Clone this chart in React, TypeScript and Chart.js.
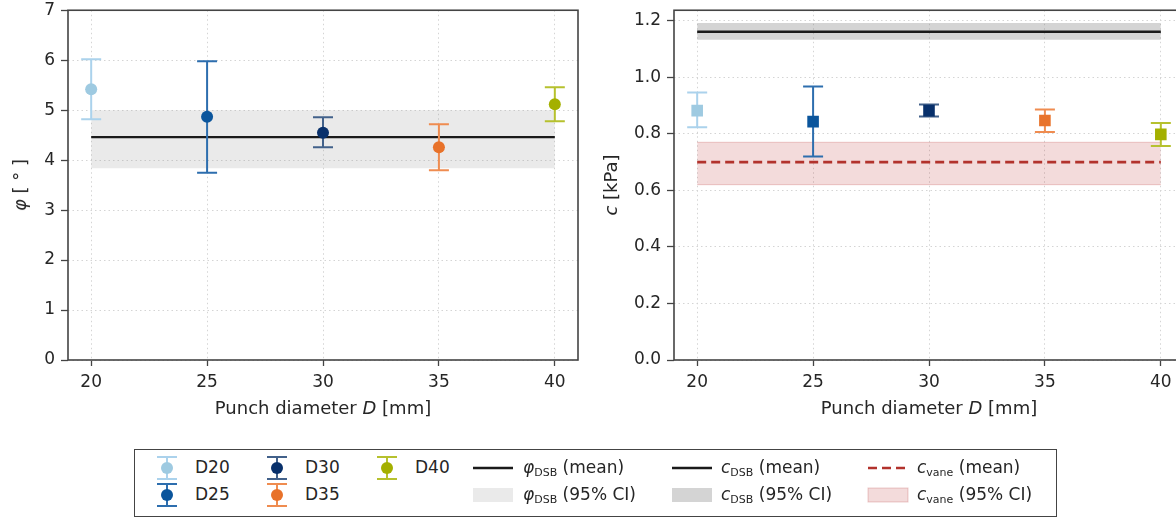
import React, { useEffect, useRef } from 'react';
import { Chart, registerables } from 'chart.js';
Chart.register(...registerables);

// ---- data ----
const diameters = [20, 25, 30, 35, 40];
const seriesNames = ['D20', 'D25', 'D30', 'D35', 'D40'];
const phiValues = [5.42, 4.87, 4.55, 4.26, 5.12];
const phiLow = [4.82, 3.75, 4.26, 3.80, 4.78];
const phiHigh = [6.02, 5.98, 4.86, 4.72, 5.46];
const cValues = [0.882, 0.843, 0.882, 0.847, 0.798];
const cLow = [0.823, 0.720, 0.861, 0.806, 0.757];
const cHigh = [0.946, 0.967, 0.904, 0.886, 0.838];
const phiDsb = [3.84, 4.46, 5.0]; // low, mean, high
const cDsb = [1.133, 1.161, 1.192];
const cVane = [0.62, 0.70, 0.77];
const bandX = [20, 40];
const xTicks = [20, 25, 30, 35, 40];
const phiTicks = [0, 1, 2, 3, 4, 5, 6, 7];
const cTicks = [0, 0.2, 0.4, 0.6, 0.8, 1.0, 1.2];

const pointColors = ['#9ecae1', '#0b559c', '#08306b', '#e8722a', '#a4b000'];
const barColors = ['#abd2ec', '#2d6eae', '#42618a', '#ef8c50', '#b6c12e'];

const FONT = "'DejaVu Sans', sans-serif";
const TXT = '#262626';

const errorBarPlugin = {
  id: 'errorBars',
  beforeDatasetDraw(chart: any, args: any) {
    const ds = chart.data.datasets[args.index];
    if (!ds.errLow) return;
    const { ctx, scales } = chart;
    const xs = scales.x, ys = scales.y;
    ctx.save();
    ctx.strokeStyle = ds.errColor;
    ctx.lineWidth = 2;
    ds.data.forEach((p: any, i: number) => {
      const px = xs.getPixelForValue(p.x);
      const yl = ys.getPixelForValue(ds.errLow[i]);
      const yh = ys.getPixelForValue(ds.errHigh[i]);
      ctx.beginPath();
      ctx.moveTo(px, yl); ctx.lineTo(px, yh);
      ctx.moveTo(px - 10, yl); ctx.lineTo(px + 10, yl);
      ctx.moveTo(px - 10, yh); ctx.lineTo(px + 10, yh);
      ctx.stroke();
    });
    ctx.restore();
  },
};

const framePlugin = {
  id: 'frame',
  afterDraw(chart: any) {
    const { ctx, chartArea: a } = chart;
    ctx.save();
    ctx.strokeStyle = '#444';
    ctx.lineWidth = 1.6;
    ctx.strokeRect(a.left, a.top, a.right - a.left, a.bottom - a.top);
    ctx.restore();
  },
};

function band(lo: number, hi: number, color: string, edge: string, baseIndex: number, order: number) {
  return [
    {
      type: 'line', data: bandX.map((x) => ({ x, y: lo })), borderWidth: edge ? 1 : 0,
      borderColor: edge || 'transparent', pointRadius: 0, fill: false, order,
    },
    {
      type: 'line', data: bandX.map((x) => ({ x, y: hi })), borderWidth: edge ? 1 : 0,
      borderColor: edge || 'transparent', pointRadius: 0, fill: baseIndex, backgroundColor: color, order,
    },
  ];
}

function meanLine(v: number, color: string, dash: number[], width: number, order: number) {
  return {
    type: 'line', data: bandX.map((x) => ({ x, y: v })), borderColor: color, borderWidth: width,
    borderDash: dash, pointRadius: 0, fill: false, order,
  };
}

function pointSets(vals: number[], lo: number[], hi: number[], style: string, radius: number) {
  return diameters.map((d, i) => ({
    type: 'scatter', label: seriesNames[i], data: [{ x: d, y: vals[i] }],
    errLow: [lo[i]], errHigh: [hi[i]], errColor: barColors[i],
    backgroundColor: pointColors[i], borderColor: pointColors[i], borderWidth: 0,
    pointStyle: style, pointRadius: radius, order: 0,
  }));
}

function makeOptions(yMin: number, yMax: number, yTicks: number[], yWidth: number, fmt: (v: number) => string, padRight: number) {
  const tickFont = { family: FONT, size: 17 };
  return {
    animation: false, responsive: false, devicePixelRatio: 1,
    layout: { padding: { top: 4, right: padRight, left: 0, bottom: 0 } },
    plugins: { legend: { display: false }, tooltip: { enabled: false } },
    scales: {
      x: {
        type: 'linear', min: 19, max: 41,
        afterBuildTicks: (s: any) => { s.ticks = xTicks.map((v) => ({ value: v })); },
        afterFit: (s: any) => { s.height = 70; },
        ticks: { font: tickFont, color: TXT, padding: 6, callback: (v: any) => String(v), maxRotation: 0 },
        grid: { color: '#d4d4d4', lineWidth: 1, tickColor: '#444', tickLength: 6, tickWidth: 1.3, tickBorderDash: [] },
        border: { display: false, dash: [1.5, 3] },
      },
      y: {
        type: 'linear', min: yMin, max: yMax,
        afterBuildTicks: (s: any) => { s.ticks = yTicks.map((v) => ({ value: v })); },
        afterFit: (s: any) => { s.width = yWidth; },
        ticks: { font: { ...tickFont, lineHeight: 0.5 }, color: TXT, padding: 6, callback: (v: any) => fmt(Number(v)) },
        grid: { color: '#d4d4d4', lineWidth: 1, tickColor: '#444', tickLength: 7, tickWidth: 1.3, tickBorderDash: [] },
        border: { display: false, dash: [1.5, 3] },
      },
    },
  };
}

function PlotCanvas({ config, width, height, left }: any) {
  const ref = useRef<HTMLCanvasElement>(null);
  useEffect(() => {
    const chart = new Chart(ref.current as HTMLCanvasElement, config);
    return () => chart.destroy();
  }, []);
  return (
    <canvas ref={ref} width={width} height={height}
      style={{ position: 'absolute', left, top: 0, width, height }} />
  );
}

function ErrIcon({ cx, cy, i }: { cx: number; cy: number; i: number }) {
  return (
    <svg width={24} height={28} style={{ position: 'absolute', left: cx - 12, top: cy - 14 }}>
      <line x1={12} y1={3} x2={12} y2={25} stroke={barColors[i]} strokeWidth={2} />
      <line x1={2} y1={3} x2={22} y2={3} stroke={barColors[i]} strokeWidth={2} />
      <line x1={2} y1={25} x2={22} y2={25} stroke={barColors[i]} strokeWidth={2} />
      <circle cx={12} cy={14} r={6} fill={pointColors[i]} />
    </svg>
  );
}

const textStyle: any = { position: 'absolute', fontFamily: FONT, fontSize: 17, color: TXT, whiteSpace: 'nowrap', lineHeight: '20px' };
const subStyle: any = { fontSize: 11, verticalAlign: '-3px' };

function Label({ x, y, children }: any) {
  return <div style={{ ...textStyle, left: x, top: y - 11 }}>{children}</div>;
}

export default function App() {
  const leftConfig: any = {
    type: 'scatter',
    data: {
      datasets: [
        ...band(phiDsb[0], phiDsb[2], 'rgba(150,150,150,0.2)', '', 0, 3),
        meanLine(phiDsb[1], '#1a1a1a', [], 2.4, 1),
        ...pointSets(phiValues, phiLow, phiHigh, 'circle', 6),
      ],
    },
    options: makeOptions(0, 7, phiTicks, 68, (v) => String(v), 12),
    plugins: [errorBarPlugin, framePlugin],
  };
  const rightConfig: any = {
    type: 'scatter',
    data: {
      datasets: [
        ...band(cDsb[0], cDsb[2], 'rgba(120,120,120,0.32)', '', 0, 4),
        ...band(cVane[0], cVane[2], 'rgba(178,34,34,0.16)', 'rgba(178,34,34,0.22)', 2, 3),
        meanLine(cDsb[1], '#1a1a1a', [], 2.4, 1),
        meanLine(cVane[1], '#b2322c', [9, 5], 2.6, 1),
        ...pointSets(cValues, cLow, cHigh, 'rect', 8.2),
      ],
    },
    options: makeOptions(0, 1.237, cTicks, 74, (v) => v.toFixed(1), 16),
    plugins: [errorBarPlugin, framePlugin],
  };

  const lx = [167, 277, 387, 167, 277];
  const ly = [468, 468, 468, 495, 495];
  const legendIdx = [0, 2, 4, 1, 3];

  return (
    <div style={{ position: 'fixed', left: 0, top: 0, width: 1176, height: 519, overflow: 'hidden', background: '#fff' }}>
      <PlotCanvas config={leftConfig} width={590} height={430} left={0} />
      <PlotCanvas config={rightConfig} width={600} height={430} left={600} />

      <div style={{ ...textStyle, fontSize: 18, left: 323, top: 398, transform: 'translateX(-50%)' }}>
        Punch diameter <i>D</i> [mm]
      </div>
      <div style={{ ...textStyle, fontSize: 18, left: 929, top: 398, transform: 'translateX(-50%)' }}>
        Punch diameter <i>D</i> [mm]
      </div>
      <div style={{ ...textStyle, fontSize: 18, left: 20, top: 185, transform: 'translate(-50%, -50%) rotate(-90deg)' }}>
        <i>φ</i> [ ° ]
      </div>
      <div style={{ ...textStyle, fontSize: 18, left: 611, top: 185, transform: 'translate(-50%, -50%) rotate(-90deg)' }}>
        <i>c</i> [kPa]
      </div>

      <div style={{ position: 'absolute', left: 134, top: 449, width: 921, height: 66, border: '1.6px solid #444', background: '#fff' }} />
      {legendIdx.map((si, k) => (
        <React.Fragment key={si}>
          <ErrIcon cx={lx[k]} cy={ly[k]} i={si} />
          <Label x={lx[k] + 28} y={ly[k]}>{seriesNames[si]}</Label>
        </React.Fragment>
      ))}

      <svg width={1176} height={519} style={{ position: 'absolute', left: 0, top: 0, pointerEvents: 'none' }}>
        <line x1={473} y1={468} x2={513} y2={468} stroke="#1a1a1a" strokeWidth={2.4} />
        <rect x={473} y={488} width={40} height={14} fill="rgba(150,150,150,0.2)" />
        <line x1={672} y1={468} x2={712} y2={468} stroke="#1a1a1a" strokeWidth={2.4} />
        <rect x={672} y={488} width={40} height={14} fill="rgba(120,120,120,0.32)" />
        <line x1={868} y1={468} x2={908} y2={468} stroke="#b2322c" strokeWidth={2.6} strokeDasharray="9 5" />
        <rect x={868} y={488} width={40} height={14} fill="rgba(178,34,34,0.16)" stroke="rgba(178,34,34,0.22)" strokeWidth={1} />
      </svg>

      <Label x={523} y={468}><i>φ</i><span style={subStyle}>DSB</span> (mean)</Label>
      <Label x={523} y={495}><i>φ</i><span style={subStyle}>DSB</span> (95% CI)</Label>
      <Label x={721} y={468}><i>c</i><span style={subStyle}>DSB</span> (mean)</Label>
      <Label x={721} y={495}><i>c</i><span style={subStyle}>DSB</span> (95% CI)</Label>
      <Label x={917} y={468}><i>c</i><span style={subStyle}>vane</span> (mean)</Label>
      <Label x={917} y={495}><i>c</i><span style={subStyle}>vane</span> (95% CI)</Label>
    </div>
  );
}
